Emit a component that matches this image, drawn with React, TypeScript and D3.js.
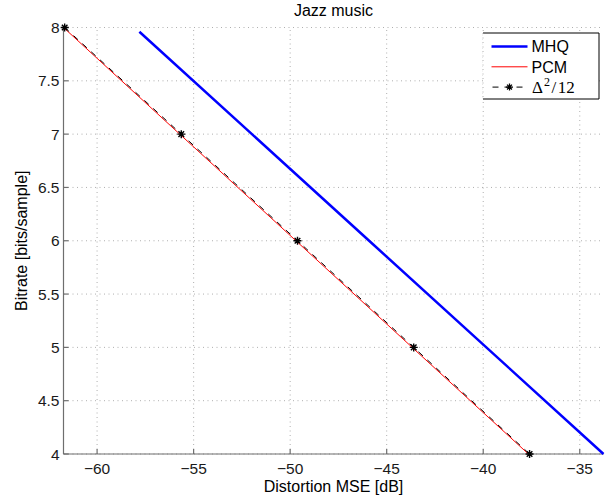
import React from 'react';
import * as d3 from 'd3';

// bitrate points (bits/sample) and distortion MSE (dB)
const bitrates = [8, 7, 6, 5, 4];
const mhqBits = [7.96, 7, 6, 5, 4];
const mhqMse = [-57.81, -51.98, -45.91, -39.84, -33.77];
const pcmMse = [-61.74, -55.72, -49.7, -43.68, -37.66];
const deltaMse = [-61.68, -55.64, -49.62, -43.6, -37.6];

const xTicks = [-60, -55, -50, -45, -40, -35];
const yTicks = [4, 4.5, 5, 5.5, 6, 6.5, 7, 7.5, 8];

const legendItems = ['MHQ', 'PCM', 'delta'];

const W = 616;
const H = 499;
const margin = { top: 27.5, right: 12.5, bottom: 45, left: 63.5 };
const font = '"Liberation Sans", Arial, Helvetica, sans-serif';

// MATLAB-style '*' marker: plus + cross
const star = (r: number) =>
  `M${-r},0H${r}M0,${-r}V${r}M${-r * 0.7},${-r * 0.7}L${r * 0.7},${r * 0.7}M${-r * 0.7},${r * 0.7}L${r * 0.7},${-r * 0.7}`;

const App = () => {
  const allX = [...mhqMse, ...pcmMse, ...deltaMse];
  const x = d3.scaleLinear().domain(d3.extent(allX) as [number, number]).range([margin.left, W - margin.right]);
  const y = d3.scaleLinear().domain([4, 8]).range([H - margin.bottom, margin.top]);

  const line = d3.line<[number, number]>().x((d) => x(d[0])).y((d) => y(d[1]));
  const mhq = mhqMse.map((v, i) => [v, mhqBits[i]] as [number, number]);
  const pcm = pcmMse.map((v, i) => [v, bitrates[i]] as [number, number]);
  const delta = deltaMse.map((v, i) => [v, bitrates[i]] as [number, number]);

  const [x0, x1] = x.range();
  const [y0, y1] = y.range();
  const fmtX = (v: number) => (v < 0 ? '\u2212' + Math.abs(v) : String(v));
  const fmtY = (v: number) => (Number.isInteger(v) ? String(v) : v.toFixed(1));

  // legend box
  const lx = 483, ly = 33, lw = 116, lh = 66;

  return (
    <svg width={W} height={H} style={{ position: 'absolute', left: 0, top: 0, background: '#fff' }} fontFamily={font}>
      {/* grid */}
      <g stroke="#9a9a9a" strokeWidth={0.8} strokeDasharray="1,3.5">
        {xTicks.map((t) => (
          <line key={'gx' + t} x1={x(t)} x2={x(t)} y1={y0} y2={y1} />
        ))}
        {yTicks.map((t) => (
          <line key={'gy' + t} x1={x0} x2={x1} y1={y(t)} y2={y(t)} />
        ))}
      </g>

      {/* axes */}
      <g stroke="#6e6e6e" strokeWidth={1.2}>
        <line x1={x0} x2={x0} y1={y0} y2={y1} />
        <line x1={x0} x2={x1} y1={y0} y2={y0} />
        {xTicks.map((t) => (
          <line key={'tx' + t} x1={x(t)} x2={x(t)} y1={y0} y2={y0 - 5} />
        ))}
        {yTicks.map((t) => (
          <line key={'ty' + t} x1={x0} x2={x0 + 5} y1={y(t)} y2={y(t)} />
        ))}
      </g>
      <g fontSize={15.5} fill="#1a1a1a">
        {xTicks.map((t) => (
          <text key={'lx' + t} x={x(t)} y={y0 + 20} textAnchor="middle">{fmtX(t)}</text>
        ))}
        {yTicks.map((t) => (
          <text key={'ly' + t} x={x0 - 4} y={y(t)} dy="0.36em" textAnchor="end">{fmtY(t)}</text>
        ))}
      </g>

      {/* series */}
      <path d={line(mhq) ?? ''} fill="none" stroke="#0000ff" strokeWidth={2.5} />
      <path d={line(pcm) ?? ''} fill="none" stroke="#ff0000" strokeWidth={1} />
      <path d={line(delta) ?? ''} fill="none" stroke="#000" strokeWidth={1} strokeDasharray="6,6" />
      {delta.map((d, i) => (
        <path key={'m' + i} d={star(4)} transform={`translate(${x(d[0])},${y(d[1])})`} stroke="#000" strokeWidth={1.4} />
      ))}

      {/* labels */}
      <text x={(x0 + x1) / 2} y={15.5} textAnchor="middle" fontSize={16} fill="#000">Jazz music</text>
      <text x={(x0 + x1) / 2} y={492} textAnchor="middle" fontSize={16} fill="#000">Distortion MSE [dB]</text>
      <text transform={`translate(27,${(y0 + y1) / 2}) rotate(-90)`} textAnchor="middle" fontSize={16} fill="#000">Bitrate [bits/sample]</text>

      {/* legend */}
      <rect x={lx} y={ly} width={lw} height={lh} fill="#fff" />
      <path d={`M${lx},${ly}H${lx + lw}V${ly + lh}H${lx}`} fill="none" stroke="#000" strokeWidth={1} />
      <line x1={lx} x2={lx} y1={ly} y2={ly + lh} stroke="#9a9a9a" strokeWidth={0.8} strokeDasharray="1,3.5" />
      {legendItems.map((k, i) => {
        const cy = ly + 13.5 + i * 20.3;
        const sx0 = lx + 8.5, sx1 = lx + 44.5;
        if (k === 'MHQ')
          return (
            <g key={k}>
              <line x1={sx0} x2={sx1} y1={cy} y2={cy} stroke="#0000ff" strokeWidth={2.5} />
              <text x={lx + 48.5} y={cy} dy="0.36em" fontSize={16}>MHQ</text>
            </g>
          );
        if (k === 'PCM')
          return (
            <g key={k}>
              <line x1={sx0} x2={sx1} y1={cy} y2={cy} stroke="#ff0000" strokeWidth={1} />
              <text x={lx + 48.5} y={cy} dy="0.36em" fontSize={16}>PCM</text>
            </g>
          );
        return (
          <g key={k}>
            <line x1={sx0} x2={sx1} y1={cy} y2={cy} stroke="#000" strokeWidth={1} strokeDasharray="6,6" strokeDashoffset={-1} />
            <path d={star(3.5)} transform={`translate(${(sx0 + sx1) / 2},${cy})`} stroke="#000" strokeWidth={1.3} />
            <text x={lx + 49} y={cy + 5.5} fontSize={17} fontFamily='"Liberation Serif", "DejaVu Serif", serif'>
              {'\u0394'}
              <tspan dx={1} dy={-7} fontSize={12}>2</tspan>
              <tspan dx={1.5} dy={7}>/</tspan>
              <tspan dx={1.5}>12</tspan>
            </text>
          </g>
        );
      })}
    </svg>
  );
};

export default App;
